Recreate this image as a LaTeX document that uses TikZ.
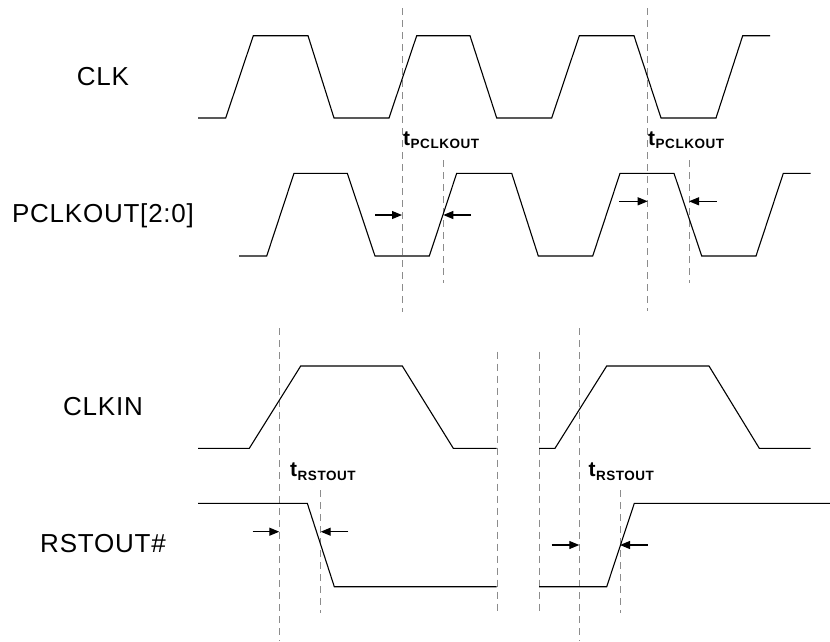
\documentclass[tikz,border=0pt]{standalone}
\usepackage{fontspec}
\setmainfont{Liberation Sans}
\usetikzlibrary{arrows.meta}

\newcommand\tzeit[1]{\fontsize{21}{23}\selectfont t\kern0.5pt\raisebox{-3.5pt}{\fontsize{13.5}{15}\selectfont\addfontfeature{LetterSpace=4}#1}}

\begin{document}
\begin{tikzpicture}[x=1pt,y=-1pt,
    signal/.style={draw=black, line width=1.1pt},
    hilfslinie/.style={draw=black!45, line width=0.9pt, dash pattern=on 7pt off 5pt},
    pfeil/.style={-{Triangle[length=10pt,width=8pt]}, line width=1.1pt},
    beschriftung/.style={font=\fontsize{26}{30}\selectfont\addfontfeature{LetterSpace=3}},
    zeit/.style={anchor=base west, inner sep=0pt, font=\bfseries}
    ]
  \useasboundingbox (0,0) rectangle (830,641);

  \node at (103,76.5) (clk) [beschriftung] {CLK};
  \node at (103,216) (pclkout) [beschriftung] {PCLKOUT[2:0]};
  \node at (103,406.5) (clkin) [beschriftung] {CLKIN};
  \node at (103,544) (rstout) [beschriftung] {RSTOUT\#};

  % Hilfslinien
  \foreach \x/\o/\u in {402/8/311.7, 443.3/160/283, 647.7/8/311, 689/160/283,
                        279.3/328/641, 320.7/490/613, 497/351.7/615, 539/351.7/615,
                        579.3/328/641, 620/490/613}
    \draw [hilfslinie] (\x,\o) -- (\x,\u);

  % Signale
  \draw [signal] (198,118) -- (225.7,118) -- (253.3,35.7) -- (308,35.7) -- (334,118) -- (389,118)
     -- (416.7,35.7) -- (470,35.7) -- (496.7,118) -- (551.7,118) -- (579.3,35.7) -- (634,35.7)
     -- (661,118) -- (716,118) -- (742.7,35.7) -- (770,35.7);
  \draw [signal] (239,256) -- (266.7,256) -- (294,173.3) -- (347.3,173.3) -- (375,256) -- (429.3,256)
     -- (456.7,173.3) -- (511.7,173.3) -- (538.3,256) -- (592.7,256) -- (620,173.3) -- (674,173.3)
     -- (701.7,256) -- (756,256) -- (783.3,173.3) -- (810.7,173.3);
  \draw [signal] (198,448.3) -- (249.3,448.3) -- (300.7,366) -- (402.3,366) -- (453.3,448.3) -- (496.7,448.3);
  \draw [signal] (539,448.3) -- (555,448.3) -- (606.7,366) -- (709,366) -- (759.3,448.3) -- (810.7,448.3);
  \draw [signal] (198,503.3) -- (307.3,503.3) -- (334.3,586.7) -- (496.7,586.7);
  \draw [signal] (539,586.7) -- (606.7,586.7) -- (634.3,503.3) -- (830,503.3);

  \node at (403,145) (tpclk0) [zeit] {\tzeit{PCLKOUT}};
  \node at (648,145) (tpclk1) [zeit] {\tzeit{PCLKOUT}};
  \node at (290,476.7) (trst0) [zeit] {\tzeit{RSTOUT}};
  \node at (588.3,476.7) (trst1) [zeit] {\tzeit{RSTOUT}};

  % Pfeile
  \foreach \n/\x/\y in {a0/375/215, b0/402/215, a1/471/215, b1/443.3/215,
                        a2/619.3/201.3, b2/647.7/201.3, a3/716.7/201.3, b3/689/201.3,
                        a4/252.7/531.7, b4/279.3/531.7, a5/348.3/531.7, b5/320.7/531.7,
                        a6/551.7/545, b6/579.3/545, a7/647.7/545, b7/620/545}
    \coordinate (\n) at (\x,\y);

  \foreach \i in {0,...,7}
    \path [pfeil] (a\i) edge [] (b\i);

\end{tikzpicture}
\end{document}
